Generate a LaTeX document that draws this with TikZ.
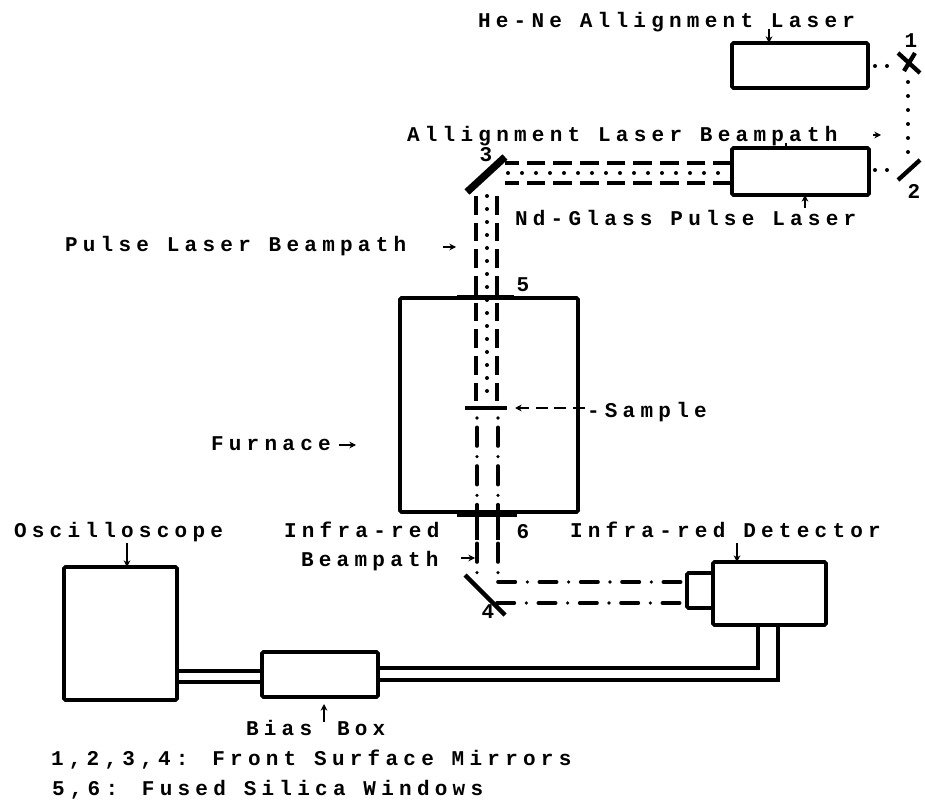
\documentclass[tikz,border=0pt]{standalone}
\usepackage{fontspec}
\newfontfamily\labfont[LetterSpace=25]{Liberation Mono}
\tikzset{
  box/.style={draw,line width=2.7pt,rectangle,rounded corners=1pt,inner sep=0pt,outer sep=0pt,anchor=north west},
  lab/.style={anchor=base west,inner sep=0pt,outer sep=0pt,font=\fontsize{15.75}{18}\selectfont\labfont\bfseries},
  dig/.style={anchor=base,inner sep=0pt,outer sep=0pt,font=\fontsize{15.75}{18}\selectfont\labfont\bfseries},
  tick/.style={-{Stealth[length=5pt,width=5pt]},line width=1.1pt},
  dashbeam/.style={line width=2.8pt,dash pattern=on 14pt off 6pt},
  dotbeam/.style={line width=3pt,line cap=round,dash pattern=on 0pt off 10.5pt},
  irbeam/.style={line width=2.7pt,line cap=round,dash pattern=on 13pt off 9pt on 0pt off 9pt},
  thick line/.style={line width=2.7pt},
  mirror/.style={line width=3.2pt},
  window/.style={line width=3.6pt},
}
\usetikzlibrary{arrows.meta}
\begin{document}
\begin{tikzpicture}[x=0.75pt,y=-0.75pt]
\useasboundingbox (0,0) rectangle (925,802);
% boxes
\node[box,minimum width=102pt,minimum height=33.75pt] (hene) at (732,43) {};
\node[box,minimum width=102.75pt,minimum height=35.25pt] (nd) at (732,148) {};
\node[box,minimum width=133.5pt,minimum height=160.5pt] (furn) at (400,298) {};
\node[box,minimum width=84.75pt,minimum height=99.75pt] (osc) at (64,567) {};
\node[box,minimum width=87pt,minimum height=33.75pt] (bias) at (262,652) {};
\node[box,minimum width=84.75pt,minimum height=47.25pt] (det) at (713,562) {};
\node[box,minimum width=19.5pt,minimum height=26.25pt] (lens) at (687,573) {};
% mirrors and windows
\coordinate (m1a) at (898,53); \coordinate (m1b) at (920,73);
\coordinate (m1c) at (904,71); \coordinate (m1d) at (915,53);
\coordinate (m2a) at (898,180); \coordinate (m2b) at (920,160);
\coordinate (m3a) at (467,192); \coordinate (m3b) at (505,157);
\coordinate (m4a) at (465,575); \coordinate (m4b) at (505,615);
\draw[mirror] (m1a)--(m1b) (m1c)--(m1d) (m2a)--(m2b) (m4a)--(m4b);
\draw[line width=5.5pt] (m3a)--(m3b);
\coordinate (w5a) at (457,297); \coordinate (w5b) at (514,297);
\coordinate (w6a) at (457,515); \coordinate (w6b) at (517,515);
\coordinate (sa) at (465,408); \coordinate (sb) at (507,408);
\draw[window] (w5a)--(w5b) (w6a)--(w6b);
\draw[line width=3pt] (sa)--(sb);
% alignment beam
\coordinate (d1) at (875,66); \coordinate (d1e) at (893,66);
\coordinate (d2) at (875,170); \coordinate (d2e) at (893,170);
\coordinate (dv1) at (908,82); \coordinate (dv2) at (908,157);
\draw[dotbeam,dash pattern=on 0pt off 9pt] (d1)--(d1e) (d2)--(d2e);
\draw[dotbeam] (dv1)--(dv2);
% horizontal beam, laser to mirror 3
\coordinate (ht) at (nd.west|-0,163); \coordinate (hb) at (nd.west|-0,183); \coordinate (hc) at (nd.west|-0,173);
\coordinate (ht3) at (505,163); \coordinate (hb3) at (505,183); \coordinate (hc3) at (502,173);
\draw[dashbeam] (ht)--(ht3) (hb)--(hb3);
\draw[dotbeam] (hc)--(hc3);
% vertical beam, mirror 3 to sample
\coordinate (vl) at (476,196); \coordinate (vr) at (497,196); \coordinate (vc) at (487,196);
\coordinate (vls) at (476,408); \coordinate (vrs) at (497,408); \coordinate (vcs) at (487,400);
\draw[dashbeam] (vl)--(vls) (vr)--(vrs);
\draw[dotbeam,dash pattern=on 0pt off 9.75pt] (vc)--(vcs);
% infra-red beam
\coordinate (il) at (477,418); \coordinate (ir) at (498,418);
\coordinate (ile) at (477,582); \coordinate (ire) at (498,582);
\draw[line width=2.7pt,line cap=round,dash pattern=on 0pt off 7pt on 14pt off 8pt] (il)--(ile) (ir)--(ire);
\draw[line width=3.2pt] (477,505)--(477,540) (498,505)--(498,540);
\coordinate (irt) at (685,582); \coordinate (irb) at (685,603);
\coordinate (irt4) at (498,582); \coordinate (irb4) at (497,603);
\draw[irbeam] (irt4)--(irt);
\draw[irbeam] (irb4)--(irb);
% cables
\coordinate (c1) at (758,625); \coordinate (c2) at (778,625);
\coordinate (c1b) at (758,668); \coordinate (c2b) at (778,680);
\draw[thick line] (c1)--(c1b)--(bias.east|-c1b);
\draw[thick line] (c2)--(c2b)--(bias.east|-c2b);
\coordinate (ca) at (bias.west|-0,671); \coordinate (cb) at (bias.west|-0,682);
\draw[thick line] (ca)--(osc.east|-ca);
\draw[thick line] (cb)--(osc.east|-cb);
% labels
\node[lab] (t1) at (478,28) {He-Ne Allignment Laser};
\node[lab] (t2) at (407,142) {Allignment Laser Beampath};
\node[lab] (t3) at (515,226) {Nd-Glass Pulse Laser};
\node[lab] (t4) at (65,252) {Pulse Laser Beampath};
\node[lab] (t5) at (211,450) {Furnace};
\node[lab] (t6) at (587,417) {-Sample};
\node[lab] (t7) at (14,537) {Oscilloscope};
\node[lab] (t8) at (284,537) {Infra-red};
\node[lab] (t9) at (301,566) {Beampath};
\node[lab] (t10) at (570,537) {Infra-red Detector};
\node[lab] (t11) at (246,735) {Bias};
\node[lab] (t12) at (337,735) {Box};
\node[lab] (t13) at (51,765) {1,2,3,4: Front Surface Mirrors};
\node[lab] (t14) at (52,795) {5,6: Fused Silica Windows};
\node[dig] (n1) at (911,48) {1};
\node[dig] (n2) at (914,199) {2};
\node[dig] (n3) at (486,162) {3};
\node[dig] (n4) at (488,618) {4};
\node[dig] (n5) at (523,292) {5};
\node[dig] (n6) at (523,538) {6};
% pointers
\coordinate (p1) at (769,29);
\draw[tick] (p1)--(hene.north-|p1);
\coordinate (p2) at (786,143);
\draw[line width=1.1pt] (p2)--(nd.north-|p2);
\coordinate (p3a) at (873,135); \coordinate (p3b) at (881,135);
\draw[tick] (p3a)--(p3b);
\coordinate (p4) at (805,208);
\draw[tick] (p4)--(nd.south-|p4);
\coordinate (p5a) at (443,247); \coordinate (p5b) at (456,247);
\draw[tick] (p5a)--(p5b);
\coordinate (p6a) at (339,445); \coordinate (p6b) at (356,445);
\draw[tick] (p6a)--(p6b);
\coordinate (p7a) at (585,408); \coordinate (p7b) at (515,408);
\draw[tick,line width=1.5pt,dash pattern=on 9pt off 5pt] (p7a)--(p7b);
\coordinate (p8) at (127,543);
\draw[tick] (p8)--(osc.north-|p8);
\coordinate (p9) at (737,543);
\draw[tick] (p9)--(det.north-|p9);
\coordinate (p10a) at (461,558); \coordinate (p10b) at (475,558);
\draw[tick] (p10a)--(p10b);
\coordinate (p11) at (324,722);
\draw[tick] (p11)--(324,704);
\end{tikzpicture}
\end{document}
